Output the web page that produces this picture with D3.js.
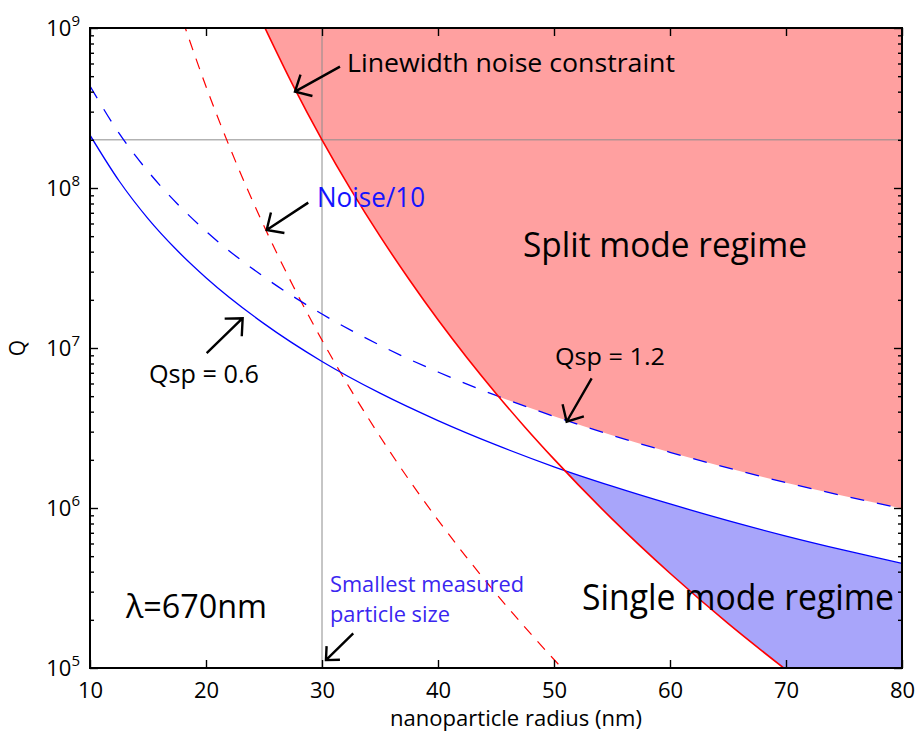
<!DOCTYPE html>
<html>
<head>
<meta charset="utf-8">
<script src="https://cdn.jsdelivr.net/npm/d3@7"></script>
<style>
  body { margin: 0; background: #fff; }
  svg { display: block; }
  text { font-family: "Open Sans", "Noto Sans", sans-serif; }
</style>
</head>
<body>
<svg id="chart" width="918" height="733"></svg>
<script>
// ---- data: Q thresholds versus nanoparticle radius (nm), lambda = 670 nm ----
const radiusTicks = [10, 20, 30, 40, 50, 60, 70, 80];
const qTicks = [1e5, 1e6, 1e7, 1e8, 1e9];

// Mode-splitting thresholds Qsp = 0.6 (solid) and Qsp = 1.2 (dashed)
const radiusQsp = [10, 12.5, 15, 17.5, 20, 25, 30, 35, 40, 45, 50, 55, 60, 65, 70, 75, 80];
const qsp06 = [2.14e8, 1.11e8, 6.44e7, 4.08e7, 2.75e7, 1.42e7, 8.24e6, 5.22e6, 3.52e6,
               2.48e6, 1.81e6, 1.37e6, 1.06e6, 8.34e5, 6.68e5, 5.45e5, 4.50e5];
const qsp12 = [4.34e8, 2.20e8, 1.27e8, 8.00e7, 5.37e7, 2.78e7, 1.63e7, 1.04e7, 7.08e6,
               5.05e6, 3.74e6, 2.85e6, 2.23e6, 1.78e6, 1.44e6, 1.19e6, 9.93e5];

// Linewidth noise constraint (solid red)
const radiusNoise = [25, 27.5, 30, 32.5, 35, 37.5, 40, 42.5, 45, 47.5, 50, 55, 60, 65, 70];
const noiseLimit = [1.03e9, 4.38e8, 2.0e8, 9.73e7, 5.0e7, 2.69e7, 1.5e7, 8.69e6, 5.2e6,
                    3.2e6, 2.02e6, 8.55e5, 3.91e5, 1.9e5, 9.75e4];

// Noise/10 (dashed red)
const radiusNoise10 = [18, 20, 22, 25, 27.5, 30, 32.5, 35, 37.5, 40, 45, 50, 51];
const noiseTenth = [1.11e9, 4.31e8, 1.83e8, 5.78e7, 2.45e7, 1.12e7, 5.45e6, 2.8e6,
                    1.5e6, 8.41e5, 2.92e5, 1.13e5, 9.44e4];

// Reference lines: smallest measured particle radius and the Q level it meets
const smallestRadius = 30;
const qReference = 2e8;

// ---- layout ----
const svg = d3.select("#chart");
const x = d3.scaleLinear().domain([10, 80]).range([90, 902]);
const y = d3.scaleLog().domain([1e5, 1e9]).range([668, 28]);
const [xL, xR] = x.range();
const [yB, yT] = y.range();

const zip = (rs, qs) => rs.map((r, i) => [r, qs[i]]);
const lowPts = zip(radiusQsp, qsp06);
const highPts = zip(radiusQsp, qsp12);
const noisePts = zip(radiusNoise, noiseLimit);
const noise10Pts = zip(radiusNoise10, noiseTenth);

const curve = d3.curveMonotoneX;
const line = d3.line().x(d => x(d[0])).y(d => y(d[1])).curve(curve);

const defs = svg.append("defs");
defs.append("clipPath").attr("id", "plotClip")
  .append("rect").attr("x", xL).attr("y", yT).attr("width", xR - xL).attr("height", yB - yT);

// area above the Qsp = 1.2 curve
defs.append("clipPath").attr("id", "aboveHigh")
  .append("path")
  .attr("d", d3.area().x(d => x(d[0])).y0(yT - 50).y1(d => y(d[1])).curve(curve)(highPts));

// area below the Qsp = 0.6 curve
defs.append("clipPath").attr("id", "belowLow")
  .append("path")
  .attr("d", d3.area().x(d => x(d[0])).y0(yB + 50).y1(d => y(d[1])).curve(curve)(lowPts));

// region to the right of (above) the linewidth noise constraint
const rightOfNoise = line(noisePts) + `L${xR + 20},${yB + 20}L${xR + 20},${yT - 50}Z`;

const plot = svg.append("g").attr("clip-path", "url(#plotClip)");

// split mode regime
plot.append("g").attr("clip-path", "url(#aboveHigh)")
  .append("path").attr("d", rightOfNoise).attr("fill", "#ffa0a0");

// single mode regime
plot.append("g").attr("clip-path", "url(#belowLow)")
  .append("path").attr("d", rightOfNoise).attr("fill", "#a8a5fa");

// reference lines
plot.append("line")
  .attr("x1", x(smallestRadius)).attr("x2", x(smallestRadius))
  .attr("y1", yT).attr("y2", yB)
  .attr("stroke", "#8c8c8c").attr("stroke-width", 1);
plot.append("line")
  .attr("x1", xL).attr("x2", xR)
  .attr("y1", y(qReference)).attr("y2", y(qReference))
  .attr("stroke", "#8c8c8c").attr("stroke-width", 1);

// curves
plot.append("path").attr("d", line(noise10Pts))
  .attr("fill", "none").attr("stroke", "#ff0000").attr("stroke-width", 1.2)
  .attr("stroke-dasharray", "11,9");
plot.append("path").attr("d", line(highPts))
  .attr("fill", "none").attr("stroke", "#0000ff").attr("stroke-width", 1.3)
  .attr("stroke-dasharray", "14,13");
plot.append("path").attr("d", line(lowPts))
  .attr("fill", "none").attr("stroke", "#0000ff").attr("stroke-width", 1.3);
plot.append("path").attr("d", line(noisePts))
  .attr("fill", "none").attr("stroke", "#ff0000").attr("stroke-width", 1.6);

// ---- axes ----
const minorTicks = [];
qTicks.slice(0, -1).forEach(q => { for (let k = 2; k <= 9; k++) minorTicks.push(q * k); });

function styleAxis(g) {
  g.select(".domain").remove();
  g.selectAll(".tick line").attr("stroke", "#000").attr("stroke-width", 1.4);
}

svg.append("g").attr("transform", `translate(0,${yB})`)
  .call(d3.axisBottom(x).tickValues(radiusTicks).tickSizeInner(-8).tickSizeOuter(0)
        .tickPadding(14).tickFormat(d3.format("d")))
  .call(styleAxis)
  .call(g => g.selectAll("text").attr("font-size", 22).attr("fill", "#000")
        .attr("font-family", '"Open Sans", sans-serif'));

svg.append("g").attr("transform", `translate(0,${yT})`)
  .call(d3.axisTop(x).tickValues(radiusTicks).tickSizeInner(-8).tickSizeOuter(0).tickFormat(""))
  .call(styleAxis);

svg.append("g").attr("transform", `translate(${xL},0)`)
  .call(d3.axisLeft(y).tickValues(qTicks).tickSizeInner(-8).tickSizeOuter(0).tickPadding(10))
  .call(styleAxis)
  .call(g => g.selectAll("text")
    .attr("font-size", 22).attr("fill", "#000").attr("font-family", '"Open Sans", sans-serif')
    .attr("dy", "0.36em")
    .each(function (d) {
      const t = d3.select(this).text(null);
      t.append("tspan").text("10");
      t.append("tspan").attr("font-size", 15).attr("dy", "-0.72em").text(Math.round(Math.log10(d)));
    }));
svg.append("g").attr("transform", `translate(${xL},0)`)
  .call(d3.axisLeft(y).tickValues(minorTicks).tickSizeInner(-4).tickSizeOuter(0).tickFormat(""))
  .call(styleAxis);

svg.append("g").attr("transform", `translate(${xR},0)`)
  .call(d3.axisRight(y).tickValues(qTicks).tickSizeInner(-8).tickSizeOuter(0).tickFormat(""))
  .call(styleAxis);
svg.append("g").attr("transform", `translate(${xR},0)`)
  .call(d3.axisRight(y).tickValues(minorTicks).tickSizeInner(-4).tickSizeOuter(0).tickFormat(""))
  .call(styleAxis);

svg.append("rect").attr("x", xL).attr("y", yT).attr("width", xR - xL).attr("height", yB - yT)
  .attr("fill", "none").attr("stroke", "#000").attr("stroke-width", 2);

// axis titles
svg.append("text").attr("x", 390).attr("y", 726).attr("font-size", 22)
  .attr("textLength", 252).attr("lengthAdjust", "spacingAndGlyphs")
  .text("nanoparticle radius (nm)");
svg.append("text").attr("transform", "translate(25,348) rotate(-90)")
  .attr("text-anchor", "middle").attr("font-size", 21).text("Q");

// ---- annotations ----
function label(txt, x0, base, size, width, color) {
  svg.append("text").attr("x", x0).attr("y", base).attr("font-size", size)
    .attr("fill", color || "#000")
    .attr("textLength", width).attr("lengthAdjust", "spacingAndGlyphs")
    .text(txt);
}
label("Linewidth noise constraint", 347, 72, 25, 328);
label("Noise/10", 317, 207, 27, 108, "#1414ff");
label("Split mode regime", 523, 257, 35, 284);
label("Qsp = 1.2", 555, 365, 24, 110);
label("Qsp = 0.6", 149, 383, 25, 110);
label("λ=670nm", 126, 618, 32, 141);
label("Smallest measured", 330, 592, 21, 194, "#3a26f0");
label("particle size", 330, 622, 21, 120, "#3a26f0");
label("Single mode regime", 582, 610, 37, 312);

// arrows: tip at a point of the chart, tail offset in pixels
const arrows = [
  { tip: [27.67, 4.0e8], off: [45, -25], head: 18 },
  { tip: [25.23, 5.47e7], off: [41.6, -27.3], head: 18 },
  { tip: [51.09, 3.46e6], off: [25, -43.4], head: 18 },
  { tip: [23.16, 1.535e7], off: [-36, 35], head: 18 },
  { tip: [30.34, 1.12e5], off: [27.3, -26.7], head: 14 }
];
arrows.forEach(a => {
  const tx = x(a.tip[0]), ty = y(a.tip[1]);
  const sx = tx + a.off[0], sy = ty + a.off[1];
  const ang = Math.atan2(a.off[1], a.off[0]);
  const half = 43 * Math.PI / 180;
  const h1 = [tx + a.head * Math.cos(ang + half), ty + a.head * Math.sin(ang + half)];
  const h2 = [tx + a.head * Math.cos(ang - half), ty + a.head * Math.sin(ang - half)];
  svg.append("path")
    .attr("d", `M${sx},${sy}L${tx},${ty}M${h1[0]},${h1[1]}L${tx},${ty}L${h2[0]},${h2[1]}`)
    .attr("fill", "none").attr("stroke", "#000").attr("stroke-width", 2.4)
    .attr("stroke-linejoin", "miter");
});
</script>
</body>
</html>
